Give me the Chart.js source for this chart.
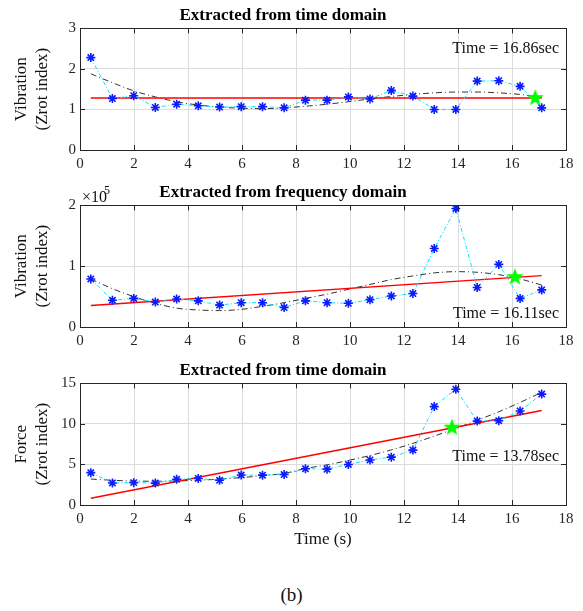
<!DOCTYPE html>
<html>
<head>
<meta charset="utf-8">
<script src="https://cdn.jsdelivr.net/npm/chart.js@4.4.1/dist/chart.umd.min.js"></script>
<style>
  body { margin: 0; background: #fff; width: 583px; height: 611px; position: relative; overflow: hidden; font-family: "Liberation Serif", serif; }
  .panel { position: absolute; left: 0; }
  #caption { position: absolute; left: 0; width: 583px; top: 584px; text-align: center; font-size: 19px; color: #111; }
</style>
</head>
<body>
<canvas id="c1" class="panel" style="top:0px" width="583" height="174"></canvas>
<canvas id="c2" class="panel" style="top:177px" width="583" height="174"></canvas>
<canvas id="c3" class="panel" style="top:355px" width="583" height="200"></canvas>
<div id="caption">(b)</div>
<script>
// sample times (s)
const times = [0.40, 1.20, 1.99, 2.79, 3.58, 4.38, 5.17, 5.97, 6.76, 7.56, 8.35, 9.15, 9.94, 10.74, 11.53, 12.33, 13.12, 13.92, 14.71, 15.51, 16.30, 17.10];
const trendTimes = [0.40, 17.10];
const xTicks = [0, 2, 4, 6, 8, 10, 12, 14, 16, 18];

// panel 1: vibration, time domain
const vibTime = [2.28, 1.27, 1.34, 1.05, 1.13, 1.09, 1.06, 1.07, 1.07, 1.04, 1.23, 1.23, 1.31, 1.26, 1.47, 1.33, 1.00, 1.00, 1.70, 1.71, 1.57, 1.04];
const vibTimeFit = [1.88, 1.66, 1.46, 1.31, 1.19, 1.11, 1.06, 1.03, 1.02, 1.04, 1.08, 1.13, 1.19, 1.26, 1.32, 1.37, 1.41, 1.43, 1.43, 1.41, 1.37, 1.30];
const vibTimeTrend = [1.28, 1.28];
const vibTimeAlarm = { x: 16.86, y: 1.28 };

// panel 2: vibration, frequency domain
const vibFreq = [79000, 44000, 47000, 41000, 46000, 43000, 36000, 40000, 40000, 32000, 43000, 40000, 39000, 45000, 51000, 55000, 129000, 195000, 65000, 103000, 47000, 61000];
const vibFreqFit = [79000, 63000, 50000, 39000, 31000, 28000, 27000, 29000, 34000, 40000, 47000, 54000, 62000, 70000, 78000, 84000, 89000, 91000, 90000, 86000, 79000, 69000];
const vibFreqTrend = [35500, 84500];
const vibFreqAlarm = { x: 16.11, y: 82000 };

// panel 3: force, time domain
const force = [3.99, 2.72, 2.76, 2.70, 3.17, 3.27, 3.05, 3.70, 3.68, 3.76, 4.47, 4.42, 5.00, 5.56, 5.90, 6.77, 12.14, 14.28, 10.35, 10.40, 11.60, 13.68];
const forceFit = [3.20, 3.05, 2.96, 2.93, 2.98, 3.05, 3.20, 3.38, 3.62, 3.90, 4.50, 4.95, 5.50, 6.10, 6.80, 7.60, 8.50, 9.45, 10.45, 11.50, 12.65, 13.90];
const forceTrend = [0.82, 11.65];
const forceAlarm = { x: 13.78, y: 9.55 };

const serif = "'Liberation Serif', 'Times New Roman', serif";
const ink = "#262626";

const makeStar = (color, r) => {
  const c = document.createElement("canvas");
  const s = Math.ceil(r * 2 + 2);
  c.width = s;
  c.height = s;
  const g = c.getContext("2d");
  g.beginPath();
  for (let i = 0; i < 10; i++) {
    const rad = i % 2 ? r * 0.42 : r;
    const a = -Math.PI / 2 + i * Math.PI / 5;
    g.lineTo(s / 2 + rad * Math.cos(a), s / 2 + rad * Math.sin(a));
  }
  g.closePath();
  g.fillStyle = color;
  g.fill();
  return c;
};
const greenStar = makeStar("#00ff00", 9);

const zip = (xs, ys) => xs.map((x, i) => ({ x: x, y: ys[i] }));

// box round the axes, inward tick marks, text notes
const framePlugin = {
  id: "frame",
  afterDraw(chart, args, opts) {
    const { ctx, chartArea: a, scales } = chart;
    ctx.save();
    ctx.strokeStyle = ink;
    ctx.lineWidth = 1;
    ctx.beginPath();
    scales.x.ticks.forEach(t => {
      const px = Math.round(scales.x.getPixelForValue(t.value)) + 0.5;
      ctx.moveTo(px, a.bottom); ctx.lineTo(px, a.bottom - 5);
      ctx.moveTo(px, a.top); ctx.lineTo(px, a.top + 5);
    });
    scales.y.ticks.forEach(t => {
      const py = Math.round(scales.y.getPixelForValue(t.value)) + 0.5;
      ctx.moveTo(a.left, py); ctx.lineTo(a.left + 5, py);
      ctx.moveTo(a.right, py); ctx.lineTo(a.right - 5, py);
    });
    ctx.stroke();
    ctx.strokeRect(Math.round(a.left) + 0.5, Math.round(a.top) + 0.5, Math.round(a.right - a.left), Math.round(a.bottom - a.top));

    ctx.fillStyle = "#111";
    ctx.font = "16px " + serif;
    ctx.textAlign = "right";
    ctx.textBaseline = "middle";
    ctx.fillText(opts.note, a.right - 7, scales.y.getPixelForValue(opts.noteY));

    if (opts.exponent) {
      ctx.textAlign = "left";
      ctx.font = "16px " + serif;
      ctx.fillText("×10", a.left + 2, a.top - 8);
      ctx.font = "12px " + serif;
      ctx.fillText(opts.exponent, a.left + 24, a.top - 15);
    }
    ctx.restore();
  }
};

const buildChart = (id, cfg) => {
  return new Chart(document.getElementById(id), {
    type: "line",
    data: {
      datasets: [
        {
          data: [cfg.alarm],
          showLine: false,
          pointStyle: greenStar,
          pointRadius: 9,
          order: 0
        },
        {
          data: zip(times, cfg.values),
          borderColor: "#00e5ff",
          borderWidth: 1,
          borderDash: [4, 2, 1, 2],
          pointStyle: "star",
          pointRadius: 4.5,
          pointBorderColor: "#0a1cff",
          pointBackgroundColor: "#0a1cff",
          pointBorderWidth: 1.6,
          order: 1
        },
        {
          data: zip(trendTimes, cfg.trend),
          borderColor: "#ff0000",
          borderWidth: 1.5,
          pointRadius: 0,
          order: 2
        },
        {
          data: zip(times, cfg.fit),
          borderColor: "#333333",
          borderWidth: 1,
          borderDash: [6, 3, 1, 3],
          pointRadius: 0,
          cubicInterpolationMode: "monotone",
          order: 3
        }
      ]
    },
    options: {
      responsive: false,
      animation: false,
      devicePixelRatio: 1,
      layout: { padding: { left: 0, right: 17, top: 0, bottom: 0 } },
      plugins: {
        legend: { display: false },
        tooltip: { enabled: false },
        title: {
          display: true,
          text: cfg.title,
          color: "#000",
          font: { family: serif, size: 17, weight: "bold", lineHeight: 1.2 },
          padding: { top: 5, bottom: 3 }
        },
        frame: { note: cfg.note, noteY: cfg.noteY, exponent: cfg.exponent }
      },
      scales: {
        x: {
          type: "linear",
          min: 0,
          max: 18,
          afterBuildTicks: (s) => { s.ticks = xTicks.map(v => ({ value: v })); },
          ticks: { color: ink, font: { family: serif, size: 15 }, padding: 5, maxRotation: 0 },
          grid: { color: "#dcdcdc", drawTicks: false },
          border: { display: false },
          title: {
            display: !!cfg.xTitle,
            text: cfg.xTitle || "",
            color: "#111",
            font: { family: serif, size: 17 },
            padding: { top: 0, bottom: 5 }
          },
          afterFit: (s) => { s.height = cfg.xHeight; }
        },
        y: {
          min: cfg.yMin,
          max: cfg.yMax,
          ticks: {
            stepSize: cfg.yStep,
            color: ink,
            font: { family: serif, size: 15 },
            padding: 4,
            callback: cfg.tickFmt || ((v) => v)
          },
          grid: { color: "#dcdcdc", drawTicks: false },
          border: { display: false },
          title: {
            display: true,
            text: cfg.yTitle,
            color: "#111",
            font: { family: serif, size: 17, lineHeight: 1.18 },
            padding: { top: 12, bottom: 0 }
          },
          afterFit: (s) => { s.width = 80; }
        }
      }
    },
    plugins: [framePlugin]
  });
};

buildChart("c1", {
  title: "Extracted from time domain",
  values: vibTime, fit: vibTimeFit, trend: vibTimeTrend, alarm: vibTimeAlarm,
  yMin: 0, yMax: 3, yStep: 1,
  yTitle: ["Vibration", "(Zrot index)"],
  note: "Time = 16.86sec", noteY: 2.5,
  xHeight: 24
});

buildChart("c2", {
  title: "Extracted from frequency domain",
  values: vibFreq, fit: vibFreqFit, trend: vibFreqTrend, alarm: vibFreqAlarm,
  yMin: 0, yMax: 200000, yStep: 100000,
  tickFmt: (v) => v / 100000,
  yTitle: ["Vibration", "(Zrot index)"],
  note: "Time = 16.11sec", noteY: 22000,
  exponent: "5",
  xHeight: 24
});

buildChart("c3", {
  title: "Extracted from time domain",
  values: force, fit: forceFit, trend: forceTrend, alarm: forceAlarm,
  yMin: 0, yMax: 15, yStep: 5,
  yTitle: ["Force", "(Zrot index)"],
  note: "Time = 13.78sec", noteY: 6,
  xTitle: "Time (s)",
  xHeight: 50
});
</script>
</body>
</html>
